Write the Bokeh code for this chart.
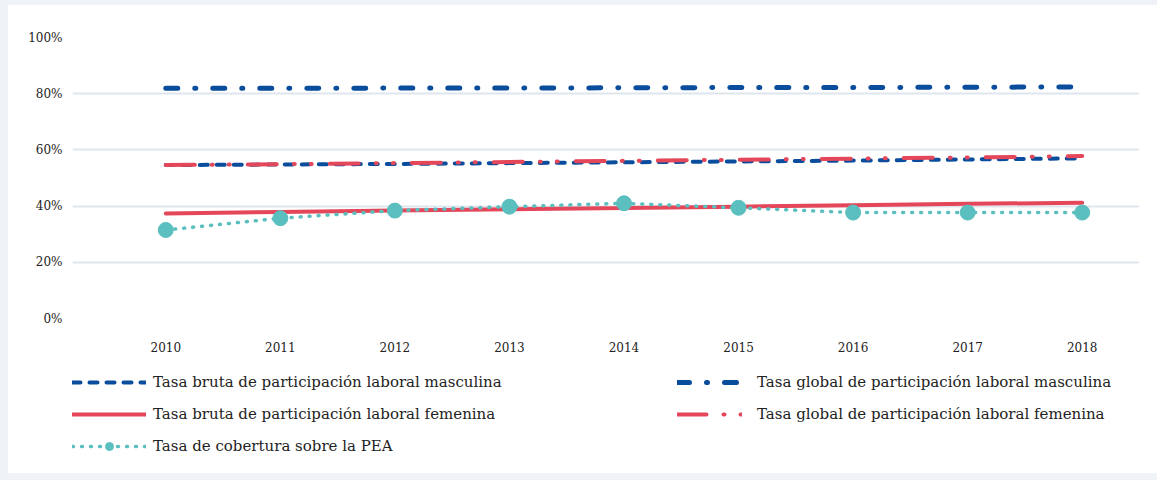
from bokeh.plotting import figure
from bokeh.models import Range1d, FixedTicker, PrintfTickFormatter, Legend, LegendItem
from bokeh.layouts import column
from bokeh.embed import file_html
from bokeh.resources import INLINE

years = [2010, 2011, 2012, 2013, 2014, 2015, 2016, 2017, 2018]
bruta_masc = [54.6, 54.8, 55.0, 55.3, 55.6, 55.9, 56.2, 56.6, 57.0]
global_masc = [81.9, 81.9, 82.0, 82.0, 82.1, 82.2, 82.2, 82.3, 82.4]
bruta_fem = [37.4, 37.9, 38.4, 38.9, 39.3, 39.8, 40.3, 40.8, 41.2]
global_fem = [54.6, 54.9, 55.3, 55.7, 56.1, 56.5, 56.9, 57.3, 57.8]
cobertura = [31.5, 35.7, 38.4, 39.8, 41.0, 39.4, 37.7, 37.7, 37.7]
y_ticks = [0, 20, 40, 60, 80, 100]

labels = {
    "bm": "Tasa bruta de participación laboral masculina",
    "bf": "Tasa bruta de participación laboral femenina",
    "cob": "Tasa de cobertura sobre la PEA",
    "gm": "Tasa global de participación laboral masculina",
    "gf": "Tasa global de participación laboral femenina",
}
series = {"bm": bruta_masc, "gm": global_masc, "bf": bruta_fem, "gf": global_fem, "cob": cobertura}

BLUE = "#0a4d9c"
RED = "#e4475a"
TEAL = "#5bbfbf"
FONT = "DejaVu Serif"

styles = {
    "bm": dict(line_color=BLUE, line_width=4, line_dash="8 9", line_cap="round"),
    "gm": dict(line_color=BLUE, line_width=5, line_dash="12 17 1 17", line_cap="round"),
    "bf": dict(line_color=RED, line_width=4, line_cap="round"),
    "gf": dict(line_color=RED, line_width=4, line_dash="29 17 1 16 1 18", line_cap="round"),
    "cob": dict(line_color=TEAL, line_width=3.5, line_dash="1 8", line_cap="round"),
}
marker_style = dict(size=15, marker="circle", fill_color=TEAL, line_color=TEAL)

# frame spans x = 64..1131 inside the figure; one year = 1031/9 px,
# the gridded category band is [first-0.5, last+0.5]
px_per_year = 1031 / 9
x_start = (years[0] - 0.5) - 36 / px_per_year
x_end = years[-1] + 0.5

# ---- main chart ----
p = figure(width=1149, height=355, output_backend="svg", toolbar_location=None,
           x_range=Range1d(x_start, x_end), y_range=Range1d(0, 100),
           min_border_left=64, min_border_right=18, min_border_top=32, min_border_bottom=42,
           margin=(5, 0, 0, 8), styles={"background-color": "white"})
p.outline_line_color = None
p.background_fill_color = "white"
p.border_fill_color = "white"

p.xgrid.grid_line_color = None
p.ygrid.grid_line_color = "#dfe5ed"
p.ygrid.grid_line_width = 2
p.ygrid.bounds = (years[0] - 0.5, years[-1] + 0.5)

p.xaxis.ticker = FixedTicker(ticks=years)
p.yaxis.ticker = FixedTicker(ticks=y_ticks)
p.yaxis.formatter = PrintfTickFormatter(format="%d%%")
for ax in (p.xaxis[0], p.yaxis[0]):
    ax.axis_line_color = None
    ax.major_tick_line_color = None
    ax.minor_tick_line_color = None
    ax.major_tick_out = 0
    ax.major_tick_in = 0
    ax.minor_tick_out = 0
    ax.minor_tick_in = 0
    ax.major_label_text_font = FONT
    ax.major_label_text_font_size = "12px"
    ax.major_label_text_color = "#222222"
p.yaxis.major_label_standoff = 10
p.xaxis.major_label_standoff = 23

for key in ["bm", "gm", "bf", "gf", "cob"]:
    p.line(years, series[key], **styles[key])
p.scatter(years, cobertura, **marker_style)

# ---- legend strip: same series, ranges chosen so only the legend shows ----
lf = figure(width=1149, height=113, output_backend="svg", toolbar_location=None,
            x_range=Range1d(0, 1), y_range=Range1d(0, 1),
            x_axis_type=None, y_axis_type=None,
            min_border_left=64, min_border_right=18, min_border_top=0, min_border_bottom=0,
            margin=(0, 0, 7, 8), styles={"background-color": "white"})
lf.outline_line_color = None
lf.xgrid.grid_line_color = None
lf.ygrid.grid_line_color = None
lf.background_fill_color = "white"
lf.border_fill_color = "white"

sw = {k: lf.line(years, series[k], **styles[k]) for k in styles}
sw_m = lf.scatter(years, cobertura, **marker_style)

common = dict(glyph_height=20, label_height=20, spacing=12, padding=0, margin=0,
              border_line_color=None, background_fill_alpha=0,
              label_text_font=FONT, label_text_font_size="15px", label_text_color="#222222")
leg1 = Legend(items=[LegendItem(label=labels["bm"], renderers=[sw["bm"]]),
                     LegendItem(label=labels["bf"], renderers=[sw["bf"]]),
                     LegendItem(label=labels["cob"], renderers=[sw["cob"], sw_m])],
              location=(0, 17), glyph_width=74, label_standoff=7, **common)
leg2 = Legend(items=[LegendItem(label=labels["gm"], renderers=[sw["gm"]]),
                     LegendItem(label=labels["gf"], renderers=[sw["gf"]])],
              location=(605, 49), glyph_width=65, label_standoff=15, **common)
lf.add_layout(leg1, "center")
lf.add_layout(leg2, "center")

page = column(p, lf, width=1157, height=480, spacing=0,
              styles={"background-color": "#eff3f7"})

open("out.html", "w").write(file_html(page, INLINE))
